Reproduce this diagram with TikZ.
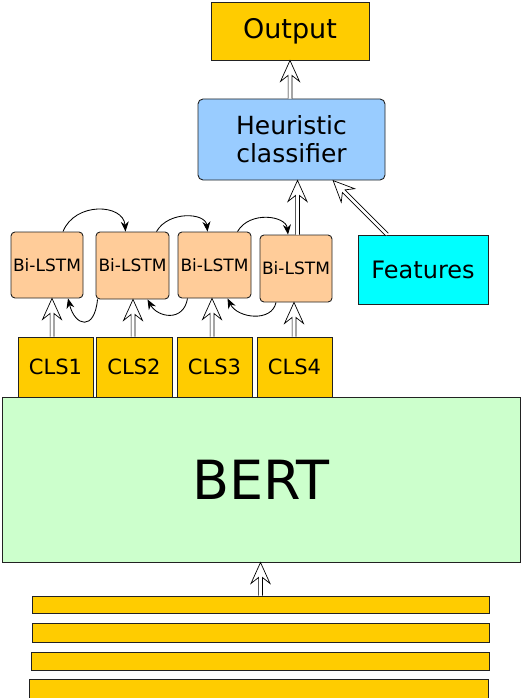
\documentclass[tikz,border=0pt]{standalone}
\usepackage{fontspec}
\setmainfont{DejaVu Sans}
\usetikzlibrary{arrows.meta,calc}
\definecolor{gold}{HTML}{FFCC00}
\definecolor{heurblue}{HTML}{99CCFF}
\definecolor{peach}{HTML}{FFCC99}
\definecolor{featcyan}{HTML}{00FFFF}
\definecolor{bertgreen}{HTML}{CCFFCC}
\definecolor{edge}{HTML}{222222}
\tikzset{
  box/.style={draw=edge, line width=0.9pt, inner sep=0pt, align=center},
  goldbox/.style={box, fill=gold},
  lstmbox/.style={box, fill=peach, rounded corners=4pt, minimum width=72pt, minimum height=66pt, font=\fontsize{17}{19}\selectfont},
  clsbox/.style={goldbox, minimum width=75pt, minimum height=60pt, font=\fontsize{21}{24}\selectfont},
  barbox/.style={goldbox, minimum width=457pt},
  hollow/.style={draw=black, fill=white, line width=0.7pt, line join=miter,
    to path={let \p1=(\tikztostart), \p2=(\tikztotarget),
      \n1={atan2(\y2-\y1,\x2-\x1)}, \n2={veclen(\x2-\x1,\y2-\y1)} in
      [shift={(\p1)}, rotate=\n1]
      (0pt,-1.9pt) -- (\n2+0pt-15pt,-1.9pt) -- (\n2+0pt-21pt,-9.5pt) -- (\n2+0pt,0pt)
      -- (\n2+0pt-21pt,9.5pt) -- (\n2+0pt-15pt,1.9pt) -- (0pt,1.9pt)}},
  curvearrow/.style={draw=black, line width=0.85pt, -{Stealth[length=10pt, width=8pt]}}
}
\begin{document}
\begin{tikzpicture}[x=1pt, y=-1pt]
\useasboundingbox (0,0) rectangle (522,698);
\clip (0,0) rectangle (522,698);
% top
\node[goldbox, minimum width=158pt, minimum height=58pt, font=\fontsize{27}{30}\selectfont] (out) at (290,31) {Output};
\node[box, fill=heurblue, rounded corners=5pt, minimum width=187pt, minimum height=81pt, font=\fontsize{25}{28}\selectfont] (heur) at (291.5,139.5) {Heuristic\\classifier};
% Bi-LSTM
\node[lstmbox] (b1) at (47,265) {Bi-LSTM};
\node[lstmbox, minimum width=73pt, minimum height=67pt] (b2) at (132.5,265.5) {Bi-LSTM};
\node[lstmbox, minimum width=73pt] (b3) at (214.5,265) {Bi-LSTM};
\node[lstmbox, minimum height=67pt] (b4) at (296,268.5) {Bi-LSTM};
\node[box, fill=featcyan, minimum width=130pt, minimum height=69pt, font=\fontsize{24}{27}\selectfont] (feat) at (423,269.5) {Features};
% CLS
\node[clsbox] (c1) at (55.5,367) {CLS1};
\node[clsbox, minimum width=76pt] (c2) at (134,367) {CLS2};
\node[clsbox] (c3) at (214.5,367) {CLS3};
\node[clsbox] (c4) at (294.5,367) {CLS4};
% BERT
\node[box, fill=bertgreen, minimum width=518pt, minimum height=165pt, font=\fontsize{54}{60}\selectfont] (bert) at (261,479.5) {BERT};
% input bars
\node[barbox, minimum height=17pt] (bar1) at (260.5,604.5) {};
\node[barbox, minimum height=19pt] (bar2) at (260.5,632.5) {};
\node[barbox, minimum width=458pt, minimum height=18pt] (bar3) at (260,661) {};
\node[barbox, minimum width=459pt, minimum height=20pt] (bar4) at (258.5,689) {};
% hollow arrows
\coordinate (hb) at ([xshift=1.5pt]b4.north |- heur.south);
\coordinate (bb) at (bar1.north |- bert.south);
\draw[hollow] (heur.north -| out.south) to (out.south);
\draw[hollow] ([xshift=1.5pt]b4.north) to (hb);
\draw[hollow] ([xshift=-36pt]feat.north) to ([xshift=41.5pt]heur.south);
\draw[hollow] ([xshift=-3.5pt]c1.north) to ([xshift=5pt]b1.south);
\draw[hollow] ([xshift=-1pt]c2.north) to ([xshift=0.5pt]b2.south);
\draw[hollow] ([xshift=-2.5pt]c3.north) to ([xshift=-2.5pt]b3.south);
\draw[hollow] ([xshift=-0.5pt]c4.north) to ([xshift=-2pt]b4.south);
\draw[hollow] (bar1.north) to (bb);
% recurrent arrows
\draw[curvearrow] ([xshift=16pt]b1.north) .. controls +(12,-30) and +(-2,-28) .. ([xshift=-7pt]b2.north);
\draw[curvearrow] ([xshift=24pt]b2.north) .. controls +(12,-21) and +(-2,-19) .. ([xshift=-7pt]b3.north);
\draw[curvearrow] ([xshift=23pt]b3.north) .. controls +(12,-21) and +(-2,-19) .. ([xshift=-8pt]b4.north);
\draw[curvearrow] ([xshift=-35pt]b2.south) .. controls +(-3,32) and +(7,28) .. ([xshift=21pt]b1.south);
\draw[curvearrow] ([xshift=-27pt]b3.south) .. controls +(-4,24) and +(10,18) .. ([xshift=15pt]b2.south);
\draw[curvearrow] ([xshift=-20pt]b4.south) .. controls +(-4,20) and +(10,20) .. ([xshift=13pt]b3.south);
\end{tikzpicture}
\end{document}
